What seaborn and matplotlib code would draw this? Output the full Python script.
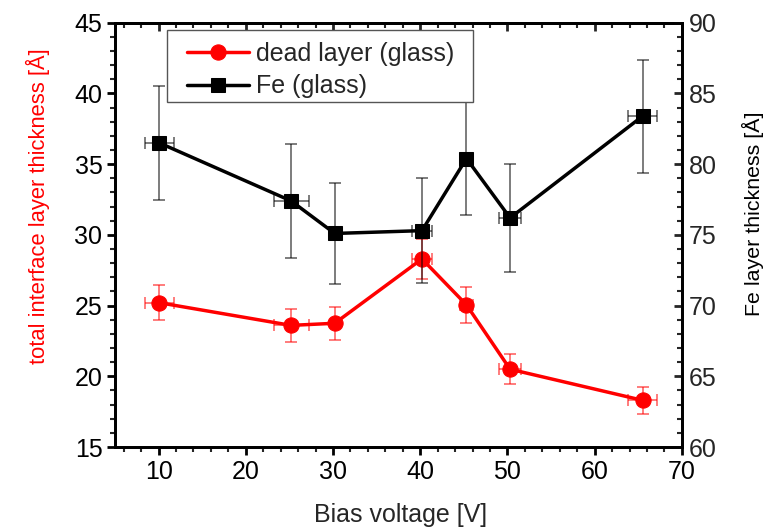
import matplotlib
matplotlib.use("Agg")
import matplotlib.pyplot as plt
from matplotlib.ticker import MultipleLocator
from matplotlib.patches import Rectangle
import seaborn as sns
import pandas as pd

bias = [10.1, 25.2, 30.2, 40.2, 45.3, 50.3, 65.5]
bias_err = [1.7, 2.0, 0.2, 1.2, 0.7, 1.3, 1.7]
dead_layer = [25.2, 23.6, 23.75, 28.3, 25.05, 20.5, 18.3]
dead_err = [1.25, 1.15, 1.15, 1.4, 1.25, 1.05, 0.95]
fe_thick = [81.5, 77.4, 75.1, 75.3, 80.4, 76.2, 83.4]
fe_err = [4.0, 4.0, 3.6, 3.7, 4.0, 3.8, 4.0]

sns.set_theme(style="ticks")
plt.rcParams["font.family"] = ["Liberation Sans", "DejaVu Sans"]

fig = plt.figure(figsize=(7.82, 5.29), dpi=100)
ax = fig.add_axes([0.147, 0.155, 0.725, 0.802])
ax2 = ax.twinx()

df = pd.DataFrame({"bias": bias, "dead": dead_layer, "fe": fe_thick})

ax.errorbar(bias, dead_layer, yerr=dead_err, xerr=bias_err, fmt="none",
            ecolor=(1, 0, 0, 0.6), elinewidth=1.2, capsize=4, capthick=1.2, zorder=1)
sns.lineplot(data=df, x="bias", y="dead", ax=ax, color="red", marker="o",
             markersize=11, markeredgecolor="red", linewidth=2.5,
             label="dead layer (glass)", legend=False, zorder=2)

ax2.errorbar(bias, fe_thick, yerr=fe_err, xerr=bias_err, fmt="none",
             ecolor=(0, 0, 0, 0.6), elinewidth=1.2, capsize=4, capthick=1.2, zorder=1)
sns.lineplot(data=df, x="bias", y="fe", ax=ax2, color="black", marker="s",
             markersize=10, markeredgecolor="black", linewidth=2.5,
             label="Fe (glass)", legend=False, zorder=2)

ax.set_xlim(5, 70)
ax.set_ylim(15, 45)
ax2.set_ylim(60, 90)

ax.xaxis.set_major_locator(MultipleLocator(10))
ax.xaxis.set_minor_locator(MultipleLocator(2))
ax.yaxis.set_major_locator(MultipleLocator(5))
ax.yaxis.set_minor_locator(MultipleLocator(1))
ax2.yaxis.set_major_locator(MultipleLocator(5))
ax2.yaxis.set_minor_locator(MultipleLocator(1))

for a in (ax, ax2):
    for s in a.spines.values():
        s.set_linewidth(2)
        s.set_color("black")

ax.tick_params(axis="both", which="major", direction="out", length=6, width=2,
               labelsize=18, colors="black", pad=3)
ax.tick_params(axis="both", which="minor", direction="out", length=3.5, width=1.5)
ax2.tick_params(axis="y", which="major", direction="in", length=6, width=2,
                labelsize=18, pad=5)
ax2.tick_params(axis="y", which="minor", direction="in", length=3.5, width=1.5)

top = ax.secondary_xaxis("top")
top.xaxis.set_major_locator(MultipleLocator(10))
top.xaxis.set_minor_locator(MultipleLocator(2))
top.tick_params(which="major", direction="in", length=6, width=2, labeltop=False)
top.tick_params(which="minor", direction="in", length=3.5, width=1.5)
top.spines["top"].set_linewidth(2)

ax.set_xlabel("Bias voltage [V]", fontsize=18)
ax.xaxis.set_label_coords(0.503, -0.132)
ax.set_ylabel("total interface layer thickness [Å]", fontsize=15.8, color="red")
ax.yaxis.set_label_coords(-0.115, 0.568)
ax2.set_ylabel("Fe layer thickness [Å]", fontsize=15.4, color="black")
ax2.yaxis.set_label_coords(1.106, 0.55)

# legend frame
ax2.add_patch(Rectangle((0.092, 0.814), 0.539, 0.169, transform=ax2.transAxes,
                        facecolor="white", edgecolor="#555555", linewidth=1,
                        zorder=9, clip_on=False))
h1, l1 = ax.get_legend_handles_labels()
h2, l2 = ax2.get_legend_handles_labels()
leg = ax2.legend(h1 + h2, l1 + l2, loc="upper left", bbox_to_anchor=(0.1275, 0.955),
                 borderaxespad=0, borderpad=0, frameon=False,
                 fontsize=18, handlelength=2.47, handletextpad=0.28,
                 labelspacing=0.34)
leg.set_zorder(10)

fig.savefig("out.png", dpi=100)
